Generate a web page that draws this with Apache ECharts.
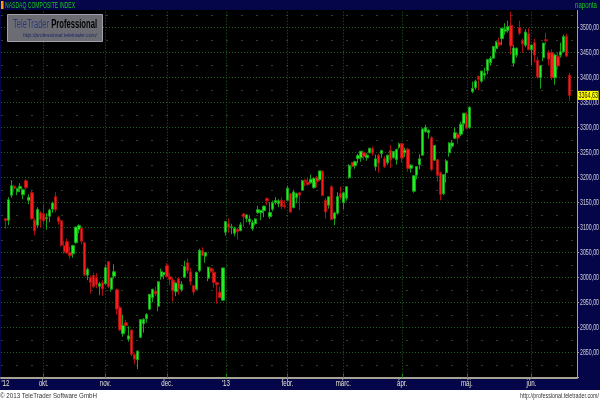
<!DOCTYPE html>
<html><head><meta charset="utf-8">
<script src="https://cdn.jsdelivr.net/npm/echarts@6.0.0/dist/echarts.min.js"></script>
<style>html,body{margin:0;padding:0;background:#fff}#c{width:600px;height:400px}</style>
</head><body><div id="c"></div>
<script>
// ---- DATA (NASDAQ Composite, daily) ----
const dates = [
'2012-09-12','2012-09-13','2012-09-14','2012-09-17','2012-09-18','2012-09-19','2012-09-20','2012-09-21','2012-09-24','2012-09-25','2012-09-26','2012-09-27','2012-09-28',
'2012-10-01','2012-10-02','2012-10-03','2012-10-04','2012-10-05','2012-10-08','2012-10-09','2012-10-10','2012-10-11','2012-10-12','2012-10-15','2012-10-16','2012-10-17','2012-10-18','2012-10-19','2012-10-22','2012-10-23','2012-10-24','2012-10-25','2012-10-26','2012-10-31',
'2012-11-01','2012-11-02','2012-11-05','2012-11-06','2012-11-07','2012-11-08','2012-11-09','2012-11-12','2012-11-13','2012-11-14','2012-11-15','2012-11-16','2012-11-19','2012-11-20','2012-11-21','2012-11-23','2012-11-26','2012-11-27','2012-11-28','2012-11-29','2012-11-30',
'2012-12-03','2012-12-04','2012-12-05','2012-12-06','2012-12-07','2012-12-10','2012-12-11','2012-12-12','2012-12-13','2012-12-14','2012-12-17','2012-12-18','2012-12-19','2012-12-20','2012-12-21','2012-12-24','2012-12-26','2012-12-27','2012-12-28','2012-12-31',
'2013-01-02','2013-01-03','2013-01-04','2013-01-07','2013-01-08','2013-01-09','2013-01-10','2013-01-11','2013-01-14','2013-01-15','2013-01-16','2013-01-17','2013-01-18','2013-01-22','2013-01-23','2013-01-24','2013-01-25','2013-01-28','2013-01-29','2013-01-30','2013-01-31',
'2013-02-01','2013-02-04','2013-02-05','2013-02-06','2013-02-07','2013-02-08','2013-02-11','2013-02-12','2013-02-13','2013-02-14','2013-02-15','2013-02-19','2013-02-20','2013-02-21','2013-02-22','2013-02-25','2013-02-26','2013-02-27','2013-02-28',
'2013-03-01','2013-03-04','2013-03-05','2013-03-06','2013-03-07','2013-03-08','2013-03-11','2013-03-12','2013-03-13','2013-03-14','2013-03-15','2013-03-18','2013-03-19','2013-03-20','2013-03-21','2013-03-22','2013-03-25','2013-03-26','2013-03-27','2013-03-28',
'2013-04-01','2013-04-02','2013-04-03','2013-04-04','2013-04-05','2013-04-08','2013-04-09','2013-04-10','2013-04-11','2013-04-12','2013-04-15','2013-04-16','2013-04-17','2013-04-18','2013-04-19','2013-04-22','2013-04-23','2013-04-24','2013-04-25','2013-04-26','2013-04-29','2013-04-30',
'2013-05-01','2013-05-02','2013-05-03','2013-05-06','2013-05-07','2013-05-08','2013-05-09','2013-05-10','2013-05-13','2013-05-14','2013-05-15','2013-05-16','2013-05-17','2013-05-20','2013-05-21','2013-05-22','2013-05-23','2013-05-24','2013-05-28','2013-05-29','2013-05-30','2013-05-31',
'2013-06-03','2013-06-04','2013-06-05','2013-06-06','2013-06-07','2013-06-10','2013-06-11','2013-06-12','2013-06-13','2013-06-14','2013-06-17','2013-06-18','2013-06-19','2013-06-20'
];
const openV = [
3118,3115,3165,3183,3172,3178,3166,3194,3155,3170,3115,3105,3130,
3128,3118,3123,3137,3162,3121,3114,3064,3072,3050,3048,3070,3096,3099,3070,3005,3000,3004,3000,2983,2990,
2988,3032,2977,3003,2976,2940,2888,2910,2877,2895,2846,2836,2881,2908,2918,2937,2960,2973,2943,3002,3006,
3024,3002,2995,2972,2998,2976,3001,3030,3012,2984,2977,3014,3054,3043,2999,3019,3011,2990,2971,2955,
3091,3108,3100,3089,3097,3094,3128,3118,3112,3098,3108,3130,3130,3134,3158,3122,3137,3150,3148,3155,3145,
3155,3168,3140,3160,3170,3175,3195,3191,3190,3180,3201,3196,3212,3155,3145,3182,3118,3129,3168,
3150,3159,3200,3230,3224,3238,3240,3250,3240,3250,3258,3222,3245,3248,3238,3230,3255,3240,3236,3261,
3268,3250,3257,3219,3173,3205,3226,3245,3292,3290,3280,3235,3236,3210,3168,3210,3250,3263,3279,3287,3287,3308,
3326,3300,3372,3380,3403,3393,3405,3414,3430,3439,3458,3471,3478,3493,3495,3505,3429,3445,3500,3475,3465,3488,
3456,3470,3435,3400,3440,3476,3450,3450,3400,3443,3445,3452,3483,3405
];
const highV = [
3119,3161,3195,3185,3180,3189,3178,3197,3167,3176,3119,3141,3133,
3146,3129,3138,3152,3171,3124,3116,3074,3078,3062,3066,3102,3107,3102,3072,3020,3004,3010,3009,2992,2995,
3025,3033,3000,3027,2978,2944,2926,2916,2903,2897,2850,2855,2917,2919,2929,2967,2978,2982,2993,3018,3011,
3029,3010,3000,2991,3001,2993,3034,3038,3019,2985,3012,3058,3061,3051,3022,3020,3018,2992,2982,3020,
3113,3119,3108,3102,3100,3111,3129,3127,3125,3115,3119,3144,3135,3144,3161,3151,3154,3161,3157,3161,3155,
3184,3170,3176,3170,3171,3196,3197,3200,3206,3200,3203,3214,3215,3159,3162,3185,3132,3171,3182,
3172,3183,3227,3232,3234,3248,3253,3252,3249,3260,3262,3246,3248,3256,3243,3246,3265,3253,3258,3270,
3270,3260,3260,3227,3204,3223,3247,3300,3306,3297,3283,3265,3237,3212,3207,3237,3271,3275,3300,3290,3312,3329,
3331,3343,3392,3396,3404,3414,3420,3437,3443,3463,3473,3480,3499,3509,3514,3532,3466,3460,3514,3478,3497,3499,
3466,3478,3442,3425,3470,3490,3455,3457,3448,3451,3470,3486,3488,3410
];
const lowV = [
3097,3105,3160,3171,3165,3171,3157,3176,3147,3116,3085,3099,3100,
3107,3096,3111,3130,3131,3106,3062,3048,3048,3038,3040,3068,3089,3067,3003,2995,2968,2980,2979,2965,2964,
2986,2979,2972,2998,2926,2893,2882,2893,2872,2843,2827,2817,2879,2890,2910,2935,2951,2963,2933,2996,2997,
3000,2985,2952,2963,2966,2972,3000,3008,2985,2965,2976,3011,3043,3030,2993,3010,2980,2948,2960,2954,
3084,3090,3087,3083,3076,3093,3101,3111,3106,3094,3105,3128,3115,3121,3145,3118,3133,3146,3141,3137,3138,
3154,3130,3139,3149,3135,3175,3183,3183,3188,3178,3181,3194,3164,3118,3138,3116,3105,3126,3156,
3137,3154,3198,3218,3218,3229,3232,3235,3234,3248,3244,3214,3210,3240,3219,3226,3220,3238,3226,3257,
3230,3241,3212,3210,3170,3197,3217,3245,3290,3278,3213,3234,3192,3155,3165,3190,3242,3258,3277,3268,3283,3293,
3297,3298,3369,3376,3375,3390,3397,3407,3424,3437,3450,3461,3465,3486,3490,3446,3422,3440,3485,3450,3461,3455,
3425,3430,3398,3378,3433,3465,3425,3395,3386,3417,3440,3450,3441,3354
];
const closeV = [
3114.31,3155.83,3183.95,3178.67,3177.80,3182.62,3175.96,3179.96,3160.78,3117.73,3093.70,3136.60,3116.23,
3113.53,3120.04,3135.23,3149.46,3136.19,3112.35,3065.02,3051.78,3049.41,3044.11,3064.18,3101.17,3104.12,3072.87,3005.62,3016.96,2990.46,2981.70,2986.12,2987.95,2977.23,
3020.06,2982.13,2999.66,3011.93,2937.29,2895.58,2904.87,2904.26,2883.89,2846.81,2836.94,2853.13,2916.07,2916.68,2926.55,2966.85,2976.78,2967.79,2991.78,3012.03,3010.24,
3002.20,2996.69,2973.70,2989.27,2978.04,2986.96,3022.30,3013.81,2992.16,2971.33,3010.60,3054.53,3044.36,3050.39,3021.01,3012.60,2990.16,2985.91,2960.31,3019.51,
3112.26,3100.57,3101.66,3098.81,3091.81,3105.81,3121.76,3125.63,3117.50,3110.78,3117.54,3136.00,3134.71,3143.18,3153.67,3130.38,3149.71,3154.30,3153.66,3142.31,3142.13,
3179.10,3131.17,3171.58,3168.48,3165.13,3193.87,3192.00,3186.49,3196.88,3198.66,3192.03,3213.59,3164.41,3131.49,3161.82,3116.25,3129.65,3162.26,3160.19,
3169.74,3182.03,3224.13,3222.37,3232.09,3244.37,3252.87,3242.32,3245.12,3258.93,3249.07,3237.59,3229.10,3254.19,3222.60,3245.00,3235.30,3252.48,3256.52,3267.52,
3239.17,3254.86,3218.60,3224.98,3203.86,3222.25,3237.86,3297.25,3300.16,3294.95,3216.49,3264.63,3204.67,3166.36,3206.06,3233.55,3269.33,3269.65,3289.99,3279.26,3307.02,3328.79,
3299.13,3340.62,3378.63,3392.97,3396.63,3413.27,3409.17,3436.58,3438.79,3462.61,3471.62,3465.24,3498.97,3496.96,3502.12,3463.30,3459.42,3459.14,3488.89,3467.52,3491.30,3455.91,
3465.37,3445.26,3401.48,3424.05,3469.22,3473.77,3436.95,3400.43,3445.36,3423.56,3452.13,3482.18,3443.20,3364.63
];
// month labels at the first trading day of each month
const monthLabels = {
  '2012-09-12': "'12", '2012-10-01': 'okt.', '2012-11-01': 'nov.', '2012-12-03': 'dec.',
  '2013-01-02': "'13", '2013-02-01': 'febr.', '2013-03-01': 'márc.', '2013-04-01': 'ápr.',
  '2013-05-01': 'máj.', '2013-06-03': 'jún.'
};
const yTicks = [2850, 2900, 2950, 3000, 3050, 3100, 3150, 3200, 3250, 3300, 3350, 3400, 3450, 3500];
const yMin = 2800, yMax = 3550, yStep = 50;
const titleText = 'NASDAQ COMPOSITE INDEX';
const periodText = 'naponta';
const copyrightText = '© 2013 TeleTrader Software GmbH';
const urlText = 'http://professional.teletrader.com/';

// ---- build ----
const padBefore = [' '];
const padAfter = ['  ', '   '];
const cats = padBefore.concat(dates, padAfter);
const candles = padBefore.map(() => '-')
  .concat(dates.map((d, i) => [openV[i], closeV[i], lowV[i], highV[i]]))
  .concat(padAfter.map(() => '-'));
const lastClose = closeV[closeV.length - 1];
const fmt = v => v.toFixed(2).replace('.', ',');

const mctx = document.createElement('canvas').getContext('2d');
function fit(str, font, w) { mctx.font = font; return w / mctx.measureText(str).width; }
const SANS = "'Liberation Sans',Arial,sans-serif";
const isMonth = (idx, val) => Object.prototype.hasOwnProperty.call(monthLabels, val) && val !== '2012-09-12';

const chart = echarts.init(document.getElementById('c'), null, {renderer: 'canvas'});
const fTitle = '8.5px ' + SANS, fFoot = '8px ' + SANS, fAxis = '9px ' + SANS;
const fLogo = 'bold 12px ' + SANS, fLogo2 = 'italic 6px ' + SANS;
chart.setOption({
  animation: false,
  backgroundColor: '#05054a',
  grid: {left: 1, right: 23, top: 2.7, bottom: 22.3, show: true, backgroundColor: '#000000', borderWidth: 0,
    outerBoundsMode: 'none', containLabel: false},
  xAxis: {
    type: 'category', data: cats, boundaryGap: true,
    axisLine: {show: true, lineStyle: {color: '#a8a290', width: 2}},
    axisTick: {show: true, alignWithLabel: true, interval: isMonth, length: -4, lineStyle: {color: '#0a8a0a'}},
    axisLabel: {show: false},
    splitLine: {show: true, interval: isMonth, alignWithLabel: true, lineStyle: {color: '#1f601f', type: [1, 2], width: 1}}
  },
  yAxis: {
    type: 'value', position: 'right', min: yMin, max: yMax, interval: yStep,
    axisLine: {show: true, lineStyle: {color: '#a8a290', width: 1}},
    axisTick: {show: true, length: 2, lineStyle: {color: '#a8a290'}},
    axisLabel: {show: false},
    splitLine: {show: true, lineStyle: {color: '#1f601f', type: [1, 2], width: 1}},
    minorTick: {show: false, splitNumber: 2},
    minorSplitLine: {show: true, lineStyle: {color: '#2c3f2c', type: [2, 13], width: 1}}
  },
  series: [{
    type: 'candlestick', data: candles, barWidth: 2.8,
    itemStyle: {color: '#22f022', color0: '#fa1c1c', borderColor: '#16a516', borderColor0: '#ac1010', borderWidth: 1}
  }]
});

const logoFont1 = '12px ' + SANS;
const logoW = (() => { mctx.font = logoFont1; const a = mctx.measureText('TeleTrader ').width; mctx.font = fLogo; return a + mctx.measureText('Professional').width; })();
const els = [
  {type: 'rect', z: 100, shape: {x: 0, y: 0, width: 600, height: 10}, style: {fill: '#05054a'}},
  {type: 'rect', z: 101, shape: {x: 1, y: 1, width: 2.5, height: 8}, style: {fill: '#ff9a00'}},
  {type: 'text', z: 101, x: 5, y: 5.5, scaleX: fit(titleText, fTitle, 70),
    style: {text: titleText, font: fTitle, fill: '#19cc19', textVerticalAlign: 'middle'}},
  {type: 'text', z: 101, x: 597, y: 5.5, scaleX: fit(periodText, fTitle, 22),
    style: {text: periodText, font: fTitle, fill: '#19cc19', textAlign: 'right', textVerticalAlign: 'middle'}},
  {type: 'rect', z: 100, shape: {x: 7.5, y: 14.5, width: 95, height: 27}, style: {fill: '#6c6c74', stroke: '#a0a0a8', lineWidth: 1}},
  {type: 'text', z: 101, x: 13, y: 25, scaleX: 84 / logoW,
    style: {text: '{a|TeleTrader }{b|Professional}', textVerticalAlign: 'middle',
      rich: {a: {font: logoFont1, fill: '#2c3a78', fontSize: 12, fontFamily: SANS, color: '#2c3a78'},
             b: {font: fLogo, fontSize: 12, fontWeight: 'bold', fontFamily: SANS, color: '#1f2862'}}}},
  {type: 'text', z: 101, x: 23, y: 35, scaleX: fit(urlText, fLogo2, 74),
    style: {text: urlText, font: fLogo2, fill: '#1c2660', textVerticalAlign: 'middle'}},
  {type: 'rect', z: 100, shape: {x: 0, y: 390, width: 600, height: 10}, style: {fill: '#ffffff'}},
  {type: 'text', z: 101, x: 0, y: 395.5, scaleX: fit(copyrightText, fFoot, 97),
    style: {text: copyrightText, font: fFoot, fill: '#333333', textVerticalAlign: 'middle'}},
  {type: 'text', z: 101, x: 599, y: 395.5, scaleX: fit(urlText, fFoot, 79),
    style: {text: urlText, font: fFoot, fill: '#333333', textAlign: 'right', textVerticalAlign: 'middle'}}
];

// axis labels placed through the chart's own scales (narrow text like the original)
const sY = fit('3500,00', fAxis, 19);
yTicks.forEach(v => {
  const py = chart.convertToPixel({yAxisIndex: 0}, v);
  els.push({type: 'text', z: 102, x: 580, y: py, scaleX: sY,
    style: {text: fmt(v), font: fAxis, fill: '#cfcfdc', textVerticalAlign: 'middle'}});
});
const sX = fit('febr.', fAxis, 12);
Object.keys(monthLabels).forEach(d => {
  const px = chart.convertToPixel({xAxisIndex: 0}, d);
  els.push({type: 'text', z: 102, x: px, y: 383.5, scaleX: sX,
    style: {text: monthLabels[d], font: fAxis, fill: '#e6e4d2', textAlign: 'center', textVerticalAlign: 'middle'}});
});
const pyLast = chart.convertToPixel({yAxisIndex: 0}, lastClose);
els.push({type: 'text', z: 103, x: 578, y: pyLast, scaleX: sY * 1.02,
  style: {text: fmt(lastClose), font: fAxis, fill: '#202000', backgroundColor: '#ffff00',
    padding: [0, 1, 0, 1], textVerticalAlign: 'middle'}});
chart.setOption({graphic: els});
</script></body></html>
